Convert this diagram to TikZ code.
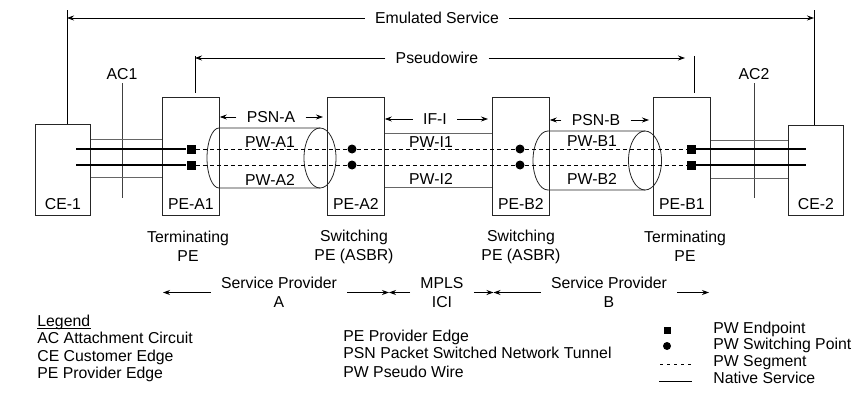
\documentclass[tikz,border=0pt]{standalone}
\usepackage{fontspec}
\setmainfont{Liberation Sans}
\usetikzlibrary{arrows.meta,positioning}
\begin{document}
\begin{tikzpicture}[x=1pt, y=-1pt, >={Stealth[length=7pt,width=5pt]},
    font=\fontsize{15.8}{19}\selectfont, line width=0.8pt,
    box/.style={draw=black!85, anchor=north west, inner sep=0pt},
    cebox/.style={box, minimum width=55pt, minimum height=91pt},
    pebox/.style={box, minimum width=57pt, minimum height=118pt},
    tube/.style={draw=black!85},
    attach/.style={draw=black!60},
    native/.style={line width=1.6pt},
    pwseg/.style={dash pattern=on 4pt off 3pt},
    endpt/.style={fill, minimum size=9pt, inner sep=0pt},
    swpt/.style={circle, fill, minimum size=9pt, inner sep=0pt},
    span/.style={inner xsep=10pt, inner ysep=0pt, align=center},
    role/.style={inner sep=0pt, align=center},
    keytext/.style={anchor=base west, inner sep=0pt}]
  \useasboundingbox (0,0) rectangle (856,393);

  % boxes
  \node[cebox] (ce1) at (35,124) {};
  \node[pebox] (pea1) at (162,97) {};
  \node[pebox] (pea2) at (327,97) {};
  \node[pebox] (peb2) at (492,97) {};
  \node[pebox] (peb1) at (653,97) {};
  \node[cebox, minimum height=90pt] (ce2) at (788,125) {};
  \node[anchor=base] (ce1name) at (ce1.south |- 0,209) {CE-1};
  \node[anchor=base] (pea1name) at (pea1.south |- 0,209) {PE-A1};
  \node[anchor=base] (pea2name) at (pea2.south |- 0,209) {PE-A2};
  \node[anchor=base] (peb2name) at (peb2.south |- 0,209) {PE-B2};
  \node[anchor=base] (peb1name) at (peb1.south |- 0,209) {PE-B1};
  \node[anchor=base] (ce2name) at (ce2.south |- 0,209) {CE-2};

  % emulated service and pseudowire spans
  \node[span] (emul) at (437,18) {Emulated Service};
  \coordinate (emull) at (67,10);
  \coordinate (emulr) at (814,10);
  \draw (ce1.north -| emull) -- (emull);
  \draw (ce2.north -| emulr) -- (emulr);
  \draw[->] (emul.west) -- (emul.west -| emull);
  \draw[->] (emul.east) -- (emul.east -| emulr);

  \node[span] (pw) at (437,58) {Pseudowire};
  \coordinate (pwl) at (195,56);
  \coordinate (pwr) at (694,56);
  \coordinate (pwtip) at (685,58);
  \draw (pwl) -- (pwl |- 0,93);
  \draw (pwr) -- (pwr |- 0,93);
  \draw[->] (pw.west) -- (pw.west -| pwl);
  \draw[->] (pw.east) -- (pwtip);

  % attachment circuits
  \node (ac1) at (122,74) {AC1};
  \node (ac2) at (754,74) {AC2};
  \draw[black!75] (ac1.south) -- (ac1.south |- 0,198);
  \draw[black!75] (ac2.south) -- (ac2.south |- 0,198);
  \foreach \y in {139,177}
    \draw[attach] (ce1.east |- 0,\y) -- (pea1.west |- 0,\y);
  \foreach \y in {140,178}
    \draw[attach] (peb1.east |- 0,\y) -- (ce2.west |- 0,\y);
  \foreach \y in {133,187}
    \draw[attach] (pea2.east |- 0,\y) -- (peb2.west |- 0,\y);

  % tunnels
  \draw[tube] (320,128) -- (219,128) arc[start angle=270, end angle=90, x radius=12, y radius=30] -- (320,188);
  \draw[tube] (320,158) ellipse[x radius=16, y radius=30];
  \draw[tube] (645,131) -- (548,131) arc[start angle=270, end angle=90, x radius=15, y radius=29.5] -- (645,190);
  \draw[tube] (645,160.5) ellipse[x radius=16.5, y radius=29.5];

  % pseudowire segments
  \node[endpt] (epa1) at (191,149) {};
  \node[endpt] (epa2) at (191,165) {};
  \node[endpt] (epb1) at (691,149) {};
  \node[endpt] (epb2) at (691,165) {};
  \coordinate (ce1a) at (76,149);
  \coordinate (ce1b) at (76,165);
  \coordinate (ce2a) at (806,149);
  \coordinate (ce2b) at (806,165);
  \draw[native] (ce1a) -- (epa1);
  \draw[native] (ce1b) -- (epa2);
  \draw[native] (epb1) -- (ce2a);
  \draw[native] (epb2) -- (ce2b);
  \draw[pwseg] (epa1) -- (epb1);
  \draw[pwseg] (epa2) -- (epb2);
  \node[swpt] (spa1) at (352,149) {};
  \node[swpt] (spa2) at (352,165) {};
  \node[swpt] (spb1) at (520,149) {};
  \node[swpt] (spb2) at (520,165) {};

  \node[inner sep=0pt] (pwa1) at (270,142) {PW-A1};
  \node[inner sep=0pt] (pwa2) at (270,180) {PW-A2};
  \node[inner sep=0pt] (pwi1) at (431,142) {PW-I1};
  \node[inner sep=0pt] (pwi2) at (431,179) {PW-I2};
  \node[inner sep=0pt] (pwb1) at (592,141) {PW-B1};
  \node[inner sep=0pt] (pwb2) at (592,179) {PW-B2};

  \node[span] (psna) at (271,117) {PSN-A};
  \draw[->] (psna.west) -- (psna.west -| pea1.east);
  \draw[->, shorten >=4pt] (psna.east) -- (psna.east -| pea2.west);
  \node[span] (ifi) at (435,119) {IF-I};
  \draw[->] (ifi.west) -- (ifi.west -| pea2.east);
  \draw[->, shorten >=4pt] (ifi.east) -- (ifi.east -| peb2.west);
  \node[span] (psnb) at (596,120) {PSN-B};
  \draw[->] (psnb.west) -- (psnb.west -| peb2.east);
  \draw[->, shorten >=4pt] (psnb.east) -- (psnb.east -| peb1.west);

  % roles and domains
  \node[role] (pea1role) at (188,246.5) {Terminating\\PE};
  \node[role] (pea2role) at (354,246.5) {Switching\\PE (ASBR)};
  \node[role] (peb2role) at (521,246.5) {Switching\\PE (ASBR)};
  \node[role] (peb1role) at (685,246.5) {Terminating\\PE};

  \coordinate (spal) at (163,292.5);
  \coordinate (icil) at (389,292.5);
  \coordinate (icir) at (493.5,292.5);
  \coordinate (spbr) at (709,292.5);
  \node[span] (spa) at (279,292.5) {Service Provider\\A};
  \node[span] (ici) at (442,292.5) {MPLS\\ICI};
  \node[span] (spb) at (609,292.5) {Service Provider\\B};
  \draw[->] (spa.west) -- (spal);
  \draw[->] (spa.east) -- (icil);
  \draw[->] (ici.west) -- (icil);
  \draw[->] (ici.east) -- (icir);
  \draw[->] (spb.west) -- (icir);
  \draw[->] (spb.east) -- (spbr);

  % legend
  \node[keytext] (lgd) at (37,326.5) {Legend};
  \draw[line width=0.7pt] (lgd.base west |- 0,328.5) -- (lgd.base east |- 0,328.5);
  \node[keytext] (lgdac) at (37,343.5) {AC Attachment Circuit};
  \node[keytext] (lgdce) at (37,361) {CE Customer Edge};
  \node[keytext] (lgdpe) at (37,378) {PE Provider Edge};
  \node[keytext] (lgdpe2) at (343,341) {PE Provider Edge};
  \node[keytext] (lgdpsn) at (343,358.5) {PSN Packet Switched Network Tunnel};
  \node[keytext] (lgdpw) at (343,377) {PW Pseudo Wire};

  \node[endpt, minimum size=7pt] (keyep) at (667,330) {};
  \node[swpt, minimum size=8pt] (keysp) at (667,346) {};
  \coordinate (keysegl) at (660,364);
  \coordinate (keysegr) at (692,364);
  \coordinate (keynatl) at (659,381);
  \coordinate (keynatr) at (692,381);
  \draw[pwseg, dash pattern=on 3pt off 4pt] (keysegl) -- (keysegr);
  \draw (keynatl) -- (keynatr);
  \node[keytext] (keyeptext) at (713,333) {PW Endpoint};
  \node[keytext] (keysptext) at (713,349) {PW Switching Point};
  \node[keytext] (keysegtext) at (713,366) {PW Segment};
  \node[keytext] (keynattext) at (713,383) {Native Service};
\end{tikzpicture}
\end{document}
